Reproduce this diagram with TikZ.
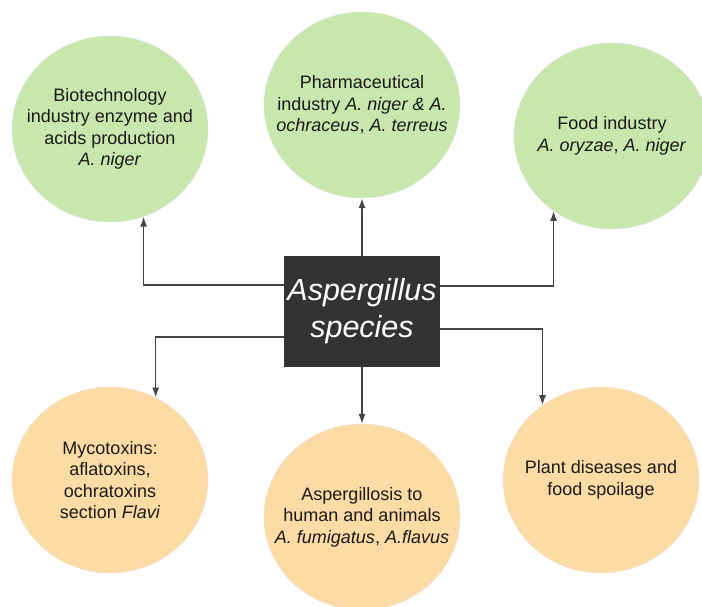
\documentclass[tikz,border=0pt]{standalone}
\usepackage{fontspec}
\setmainfont{Liberation Sans}
\usetikzlibrary{shapes.geometric,arrows.meta}

\definecolor{useGreen}{HTML}{C7E7AD}
\definecolor{riskOrange}{HTML}{FDDBA4}
\definecolor{boxDark}{HTML}{333333}
\definecolor{lineGray}{HTML}{444444}
\definecolor{inkText}{HTML}{1A1A1A}

\def\BlobW{196pt}
\def\BlobH{186pt}

\tikzset{
  blob/.style={ellipse, minimum width=\BlobW, minimum height=\BlobH, inner sep=0pt, draw=black!12, line width=0.3pt},
  blobtext/.style={align=center, text=inkText, inner sep=0pt, font=\fontsize{18}{21.5}\selectfont},
  hub/.style={rectangle, fill=boxDark, minimum width=156pt, minimum height=111pt, inner sep=0pt,
    align=center, text=white, font=\fontsize{30.5}{37}\selectfont\itshape},
  link/.style={draw=lineGray, line width=1.5pt, -{Latex[length=10pt,width=7pt]}}
}

\begin{document}
\begin{tikzpicture}[x=1pt,y=-1pt]
  \useasboundingbox (0,0) rectangle (702,606);
  % --- Circulos de uso ---
  \node[blob, fill=useGreen] (bio) at (110,129) {};
  \node[blobtext] (bio-t) at (bio) {Biotechnology\\industry enzyme and\\acids production\\\textit{A. niger}};
  \node[blob, fill=useGreen] (pharm) at (362,105) {};
  \node[blobtext] (pharm-t) at (pharm) {Pharmaceutical\\industry \textit{A. niger \& A.}\\\textit{ochraceus}, \textit{A. terreus}};
  \node[blob, fill=useGreen] (food) at (612,136) {};
  \node[blobtext] (food-t) at (food) {Food industry\\\textit{A. oryzae}, \textit{A. niger}};
  % --- Circulos de riesgo ---
  \node[blob, fill=riskOrange] (myco) at (110,480) {};
  \node[blobtext] (myco-t) at (myco) {Mycotoxins:\\aflatoxins,\\ochratoxins\\section \textit{Flavi}};
  \node[blob, fill=riskOrange] (asp) at (362,517) {};
  \node[blobtext] (asp-t) at (asp) {Aspergillosis to\\human and animals\\\textit{A. fumigatus}, \textit{A.flavus}};
  \node[blob, fill=riskOrange] (plant) at (601,480) {};
  \node[blobtext] (plant-t) at (plant) {Plant diseases and\\food spoilage};
  % --- Caja central ---
  \node[hub] (sp) at (362,311.5) {Aspergillus\\species};
  % --- Flechas ---
  \draw[link] ([yshift=26.5pt]sp.west) -| (bio.-69.4);
  \draw[link] (sp.north) -- (pharm.south);
  \draw[link] ([yshift=25.5pt]sp.east) -| (food.232.3);
  \draw[link] ([yshift=-25.5pt]sp.west) -| (myco.61.4);
  \draw[link] (sp.south) -- (asp.north);
  \draw[link] ([yshift=-17.5pt]sp.east) -| (plant.128.5);
\end{tikzpicture}
\end{document}
